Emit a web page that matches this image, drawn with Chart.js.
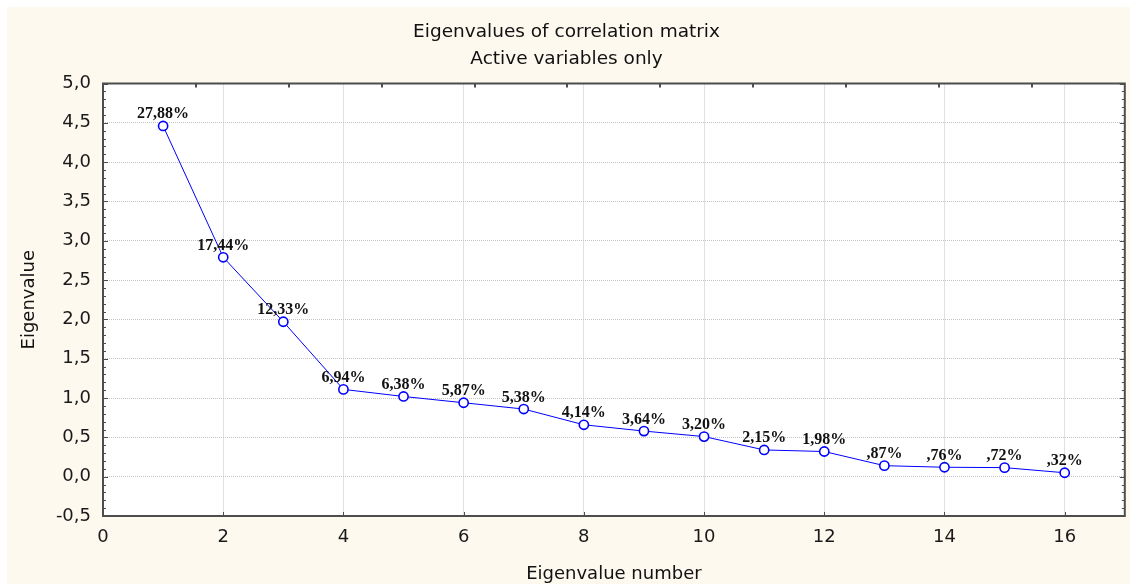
<!DOCTYPE html>
<html>
<head>
<meta charset="utf-8">
<title>Eigenvalues of correlation matrix</title>
<script src="https://cdn.jsdelivr.net/npm/chart.js@4"></script>
<style>
    html, body { margin: 0; padding: 0; background: #ffffff; }
    #wrap { width: 1131px; height: 585px; position: relative; }
</style>
</head>
<body>
<div id="wrap"><canvas id="scree"></canvas></div>
<script>
// Valores del gráfico
const eigenNumbers = [1, 2, 3, 4, 5, 6, 7, 8, 9, 10, 11, 12, 13, 14, 15, 16];
const eigenValues = [4.46, 2.79, 1.97, 1.11, 1.02, 0.94, 0.86, 0.66, 0.58, 0.51, 0.34, 0.32, 0.14, 0.12, 0.115, 0.05];
const pctLabels = ['27,88%', '17,44%', '12,33%', '6,94%', '6,38%', '5,87%', '5,38%', '4,14%',
    '3,64%', '3,20%', '2,15%', '1,98%', ',87%', ',76%', ',72%', ',32%'];
const xTicks = [0, 2, 4, 6, 8, 10, 12, 14, 16];
const yTicks = [-0.5, 0, 0.5, 1, 1.5, 2, 2.5, 3, 3.5, 4, 4.5, 5];

const CREAM = '#fdf9ef';
const FRAME = '#4d4d4d';
const SANS = '"DejaVu Sans", "Liberation Sans", Arial, sans-serif';

// Fondo crema y área blanca del gráfico
const backgroundPlugin = {
    id: 'background',
    beforeDraw(chart) {
        const { ctx, chartArea: a } = chart;
        ctx.save();
        ctx.fillStyle = '#ffffff';
        ctx.fillRect(0, 0, chart.width, chart.height);
        ctx.fillStyle = CREAM;
        ctx.fillRect(7, 7, 1123, 577);
        ctx.fillStyle = '#ffffff';
        ctx.fillRect(a.left, a.top, a.right - a.left, a.bottom - a.top);
        ctx.restore();
    }
};

// Marco y marcas hacia dentro, como en Statistica
const framePlugin = {
    id: 'frame',
    afterDraw(chart) {
        const { ctx, chartArea: a } = chart;
        const x = chart.scales.x, y = chart.scales.y;
        ctx.save();
        ctx.strokeStyle = FRAME;
        ctx.lineWidth = 1;
        // marcas del eje Y (mayores cada 0,5 y menores cada 0,1)
        for (let i = 0; i <= 55; i++) {
            const v = -0.5 + i * 0.1;
            const py = Math.round(y.getPixelForValue(v)) + 0.5;
            const len = i % 5 === 0 ? 5 : 3;
            ctx.beginPath();
            ctx.moveTo(a.left, py); ctx.lineTo(a.left + len, py);
            ctx.moveTo(a.right, py); ctx.lineTo(a.right - len, py);
            ctx.stroke();
        }
        // marcas del eje X inferior
        xTicks.forEach(v => {
            const px = Math.round(x.getPixelForValue(v)) + 0.5;
            ctx.beginPath();
            ctx.moveTo(px, a.bottom); ctx.lineTo(px, a.bottom - 4);
            ctx.stroke();
        });
        // marcas del eje superior
        ctx.lineWidth = 2;
        for (let k = 1; k < 11; k++) {
            const px = Math.round(a.left + k * (a.right - a.left) / 11);
            ctx.beginPath();
            ctx.moveTo(px, a.top); ctx.lineTo(px, a.top + 4);
            ctx.stroke();
        }
        ctx.strokeRect(a.left, a.top, a.right - a.left, a.bottom - a.top);
        ctx.restore();
    }
};

// Etiquetas de porcentaje sobre cada punto
const pctPlugin = {
    id: 'pctLabels',
    afterDatasetsDraw(chart) {
        const { ctx } = chart;
        const meta = chart.getDatasetMeta(0);
        ctx.save();
        ctx.font = 'bold 16px "Liberation Serif", "Times New Roman", serif';
        ctx.fillStyle = '#111111';
        ctx.textAlign = 'center';
        ctx.textBaseline = 'alphabetic';
        meta.data.forEach((pt, i) => {
            ctx.fillText(pctLabels[i], pt.x, pt.y - 7.5);
        });
        ctx.restore();
    }
};

const fmt = v => v.toFixed(1).replace('.', ',');

const chart = new Chart(document.getElementById('scree'), {
    type: 'line',
    data: {
        datasets: [{
            data: eigenNumbers.map((n, i) => ({ x: n, y: eigenValues[i] })),
            borderColor: '#0000ff',
            borderWidth: 1,
            backgroundColor: '#ffffff',
            pointBackgroundColor: '#ffffff',
            pointBorderColor: '#0000ff',
            pointBorderWidth: 1.6,
            pointRadius: 4.6,
            tension: 0
        }]
    },
    options: {
        responsive: true,
        maintainAspectRatio: false,
        animation: false,
        layout: { padding: { left: 7, right: 5, top: 7, bottom: 0 } },
        plugins: {
            legend: { display: false },
            tooltip: { enabled: false },
            title: {
                display: true,
                text: ['Eigenvalues of correlation matrix', 'Active variables only'],
                color: '#111111',
                font: { family: SANS, size: 18.5, weight: 'normal', lineHeight: 1.5 },
                padding: { top: 11, bottom: 10 }
            }
        },
        scales: {
            x: {
                type: 'linear',
                min: 0,
                max: 17,
                afterBuildTicks: s => { s.ticks = xTicks.map(v => ({ value: v })); },
                afterFit: s => { s.height = 69; },
                grid: { color: '#c4c4c4', lineWidth: 1, drawTicks: false },
                border: { display: false, dash: [1, 1] },
                ticks: {
                    color: '#1a1a1a',
                    padding: 11,
                    maxRotation: 0,
                    font: { family: SANS, size: 18 }
                },
                title: {
                    display: true,
                    text: 'Eigenvalue number',
                    color: '#111111',
                    padding: { top: 3, bottom: 0 },
                    font: { family: SANS, size: 18 }
                }
            },
            y: {
                min: -0.5,
                max: 5,
                afterBuildTicks: s => { s.ticks = yTicks.map(v => ({ value: v })); },
                afterFit: s => { s.width = 96; },
                grid: { color: '#c4c4c4', lineWidth: 1, drawTicks: false },
                border: { display: false, dash: [1, 1] },
                ticks: {
                    color: '#1a1a1a',
                    padding: 12,
                    callback: v => fmt(v),
                    font: { family: SANS, size: 18 }
                },
                title: {
                    display: true,
                    text: 'Eigenvalue',
                    color: '#111111',
                    padding: { top: 12, bottom: 0 },
                    font: { family: SANS, size: 18 }
                }
            }
        }
    },
    plugins: [backgroundPlugin, pctPlugin, framePlugin]
});
</script>
</body>
</html>
